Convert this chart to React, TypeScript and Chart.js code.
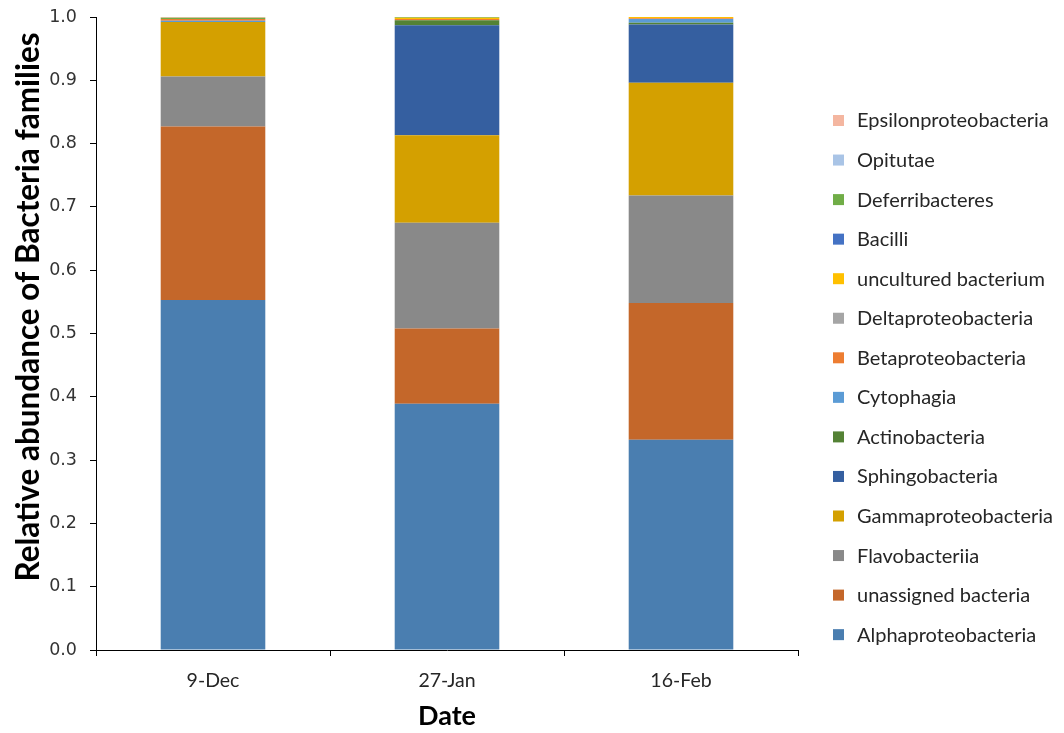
import React, { useEffect, useRef } from "react";
import { Chart, registerables } from "chart.js";

Chart.register(...registerables);

const dates = ["9-Dec", "27-Jan", "16-Feb"];

// Stack order, bottom to top
const families = [
  "Alphaproteobacteria",
  "unassigned bacteria",
  "Flavobacteriia",
  "Gammaproteobacteria",
  "Sphingobacteria",
  "Actinobacteria",
  "Cytophagia",
  "Betaproteobacteria",
  "Deltaproteobacteria",
  "uncultured bacterium",
  "Bacilli",
  "Deferribacteres",
  "Opitutae",
  "Epsilonproteobacteria",
];

const alpha = [0.553, 0.389, 0.332];
const unassigned = [0.274, 0.119, 0.216];
const flavo = [0.079, 0.167, 0.17];
const gamma = [0.086, 0.138, 0.178];
const sphingo = [0, 0.174, 0.092];
const actino = [0, 0.008, 0.003];
const cytophagia = [0.002, 0, 0.006];
const beta = [0.003, 0.002, 0.001];
const delta = [0, 0, 0];
const uncultured = [0, 0.002, 0.002];
const bacilli = [0, 0, 0];
const deferri = [0.002, 0.001, 0];
const opitutae = [0, 0, 0];
const epsilon = [0.001, 0, 0];

const seriesValues = [
  alpha, unassigned, flavo, gamma, sphingo, actino, cytophagia,
  beta, delta, uncultured, bacilli, deferri, opitutae, epsilon,
];

const colors = [
  "#4A7EB0", "#C4672A", "#898989", "#D4A000", "#355FA0", "#548235", "#5B9BD5",
  "#ED7D31", "#A5A5A5", "#FFC000", "#4472C4", "#70AD47", "#A9C4E6", "#F4B6A0",
];

const yTicks = [0, 0.1, 0.2, 0.3, 0.4, 0.5, 0.6, 0.7, 0.8, 0.9, 1.0];

const yTitle = "Relative abundance of Bacteria families";

const FONT = "Lato, 'Open Sans', sans-serif";
const TEXT = "#262626";

// Right-hand legend (reverse stack order) and the rotated value-axis title
const sideLegend = {
  id: "sideLegend",
  afterDraw(chart: any) {
    const ctx = chart.ctx;
    const items = chart.data.datasets
      .map((d: any) => ({ label: d.label, color: d.backgroundColor }))
      .reverse();
    const x0 = 833;
    const y0 = 120;
    const step = 39.55;
    ctx.save();
    ctx.font = `20px ${FONT}`;
    ctx.textBaseline = "middle";
    items.forEach((it: any, i: number) => {
      const y = y0 + i * step;
      ctx.fillStyle = it.color;
      ctx.fillRect(x0, y - 5, 11, 11);
      ctx.fillStyle = TEXT;
      ctx.fillText(it.label, x0 + 24, y + 1);
    });
    ctx.restore();

    ctx.save();
    ctx.translate(29, 307);
    ctx.rotate(-Math.PI / 2);
    ctx.font = `bold 31.5px ${FONT}`;
    ctx.textAlign = "center";
    ctx.textBaseline = "middle";
    ctx.fillStyle = "#000";
    ctx.fillText(yTitle, 0, 0);
    ctx.restore();
  },
};

export default function App() {
  const ref = useRef<HTMLCanvasElement | null>(null);

  useEffect(() => {
    if (!ref.current) return;
    const chart = new Chart(ref.current, {
      type: "bar",
      data: {
        labels: dates,
        datasets: families.map((name, i) => ({
          label: name,
          data: seriesValues[i],
          backgroundColor: colors[i],
          borderWidth: 0,
          barPercentage: 0.447,
          categoryPercentage: 1,
        })),
      },
      options: {
        animation: false,
        responsive: true,
        maintainAspectRatio: false,
        layout: { padding: { left: 0, top: 17, right: 266, bottom: 0 } },
        plugins: {
          legend: { display: false },
          tooltip: { enabled: false },
        },
        scales: {
          x: {
            stacked: true,
            offset: true,
            grid: {
              offset: true,
              drawOnChartArea: false,
              drawTicks: true,
              tickLength: 6,
              color: "#000",
            },
            border: { display: true, color: "#000", width: 1 },
            ticks: {
              color: TEXT,
              font: { family: FONT, size: 19.5 },
              padding: 13,
            },
            title: {
              display: true,
              text: "Date",
              color: "#000",
              font: { family: FONT, size: 27, weight: "bold" },
              padding: { top: 0, bottom: 1 },
            },
            afterFit(scale: any) {
              scale.height = 83;
              scale.paddingLeft = 0;
              scale.paddingRight = 0;
            },
          },
          y: {
            stacked: true,
            min: 0,
            max: 1,
            afterBuildTicks(scale: any) {
              scale.ticks = yTicks.map((v) => ({ value: v }));
            },
            grid: {
              drawOnChartArea: false,
              drawTicks: true,
              tickLength: 6,
              color: "#000",
            },
            border: { display: true, color: "#000", width: 1 },
            ticks: {
              color: "#333",
              font: { family: "'DejaVu Sans', sans-serif", size: 17.5 },
              padding: 13,
              callback: (v: any) => Number(v).toFixed(1),
            },
            afterFit(scale: any) {
              scale.width = 96;
              scale.paddingTop = 0;
              scale.paddingBottom = 0;
            },
          },
        },
      },
      plugins: [sideLegend],
    });
    return () => chart.destroy();
  }, []);

  return (
    <div style={{ position: "fixed", left: 0, top: 0, width: 1064, height: 733, background: "#fff" }}>
      <canvas ref={ref} />
    </div>
  );
}
